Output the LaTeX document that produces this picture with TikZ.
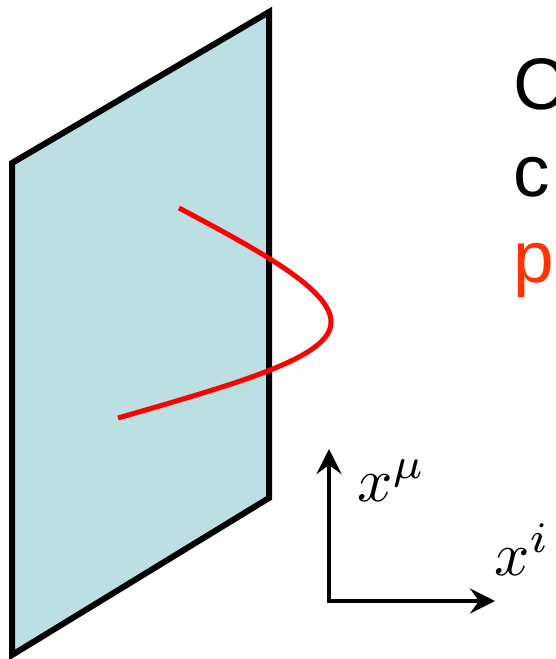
\documentclass[tikz,border=0pt]{standalone}
\usepackage{fontspec}
\setmainfont{Liberation Sans}
\usetikzlibrary{arrows.meta}
\definecolor{planefill}{RGB}{188,223,227}
\definecolor{curvered}{RGB}{255,0,0}
\definecolor{textred}{RGB}{255,51,0}
\tikzset{
  planestyle/.style={draw=black,fill=planefill,line width=6pt,line join=miter},
  curvestyle/.style={draw=curvered,line width=5pt},
  axisstyle/.style={draw=black,line width=4pt,-{Stealth[length=25pt,width=25pt,inset=9pt]}},
  bigtext/.style={anchor=base west,inner sep=0pt,font=\fontsize{73}{87}\selectfont},
  mathlabel/.style={anchor=base west,inner sep=0pt,scale=6.2}
}
\begin{document}
\begin{tikzpicture}[x=1pt,y=-1pt]
\useasboundingbox (0,0) rectangle (555,659);
% plane
\path[planestyle] (12,163) -- (269,12) -- (269,498) -- (12,655) -- cycle;
% curve
\path[curvestyle] (179,208) .. controls (262,252) and (331,290) .. (331,322)
  .. controls (331,356) and (250,380) .. (118,418);
% axes
\coordinate (o) at (329,601);
\coordinate (up) at (329,449);
\coordinate (right) at (495,601);
\draw[axisstyle] ([yshift=2pt]o) -- (up);
\draw[axisstyle] ([xshift=-2pt]o) -- (right);
\node[mathlabel] (xmu) at (356,501) {$x^\mu$};
\node[mathlabel] (xi) at (493,575) {$x^i$};
% text
\node[bigtext] (t1) at (513,109) {C};
\node[bigtext] (t2) at (513,196) {c};
\node[bigtext,text=textred] (t3) at (513,282) {p};
\end{tikzpicture}
\end{document}
